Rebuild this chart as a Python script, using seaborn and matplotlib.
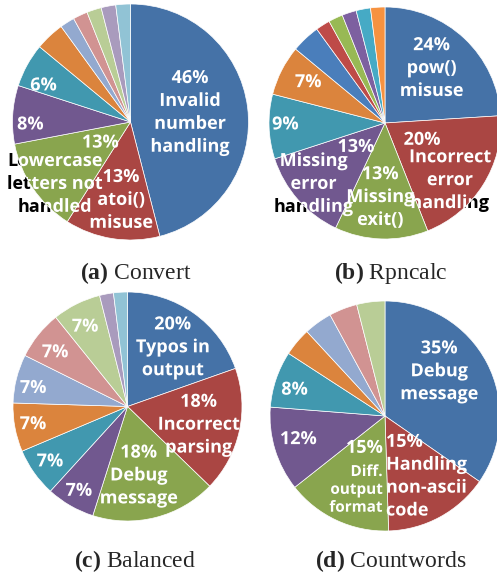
import numpy as np
import matplotlib
matplotlib.use("Agg")
import matplotlib.pyplot as plt
import matplotlib.patches as mpatches
import matplotlib.patheffects as pe
import seaborn as sns

# slice values in percent, clockwise from 12 o'clock
convert_values = [46, 13, 13, 8, 6, 4, 2, 2, 2, 2, 2]
convert_names = ["Invalid\nnumber\nhandling", "atoi()\nmisuse", "Lowercase\nletters not\nhandled"]

rpncalc_values = [24, 20, 13, 13, 9, 7, 4, 2, 2, 2, 2, 2]
rpncalc_names = ["pow()\nmisuse", "Incorrect\nerror\nhandling", "Missing\nexit()", "Missing\nerror\nhandling"]

balanced_values = [20, 18, 18, 7, 7, 7, 7, 7, 7, 2, 2]
balanced_names = ["Typos in\noutput", "Incorrect\nparsing", "Debug\nmessage"]

countwords_values = [35, 15, 15, 12, 8, 4, 4, 4, 4]
countwords_names = ["Debug\nmessage", "Handling\nnon-ascii\ncode", "Diff.\noutput\nformat"]

captions = [("(a)", "Convert"), ("(b)", "Rpncalc"), ("(c)", "Balanced"), ("(d)", "Countwords")]

# Excel-like palettes
dark = ["#4572A7", "#AA4643", "#89A54E", "#71588F", "#4198AF", "#DB843D"]
light = ["#93A9CF", "#D19392", "#B9CD96", "#A99BBD", "#91C3D5"]
bright = ["#4A7EBB", "#BE4B48", "#98B954", "#7D60A0", "#46AAC5", "#F69240"]

sns.set_style("white")
plt.rcParams["font.family"] = ["Open Sans", "DejaVu Sans"]
plt.rcParams["mathtext.fontset"] = "custom"
plt.rcParams["mathtext.rm"] = "Liberation Serif"
plt.rcParams["mathtext.bf"] = "Liberation Serif:bold"

W, H = 497, 574
fig = plt.figure(figsize=(W / 100, H / 100), dpi=100)


def pie_axes(cx, cy, r):
    return fig.add_axes([(cx - r) / W, 1 - (cy + r) / H, 2 * r / W, 2 * r / H])


def put_text(ax, s, r, ang, ma="center", size=13):
    a = np.deg2rad(ang)
    x, y = r * np.cos(a), r * np.sin(a)
    kw = dict(ha="center", va="center", multialignment=ma, fontsize=size,
              fontweight="bold", linespacing=1.35)
    # black copy sits under the pie, so it only shows where text leaves the circle
    ax.text(x, y, s, color="black", zorder=0.5, clip_on=False, **kw)
    # white copy drawn as a path so it can be clipped to the circle
    t = ax.text(x, y, s, color="white", zorder=4, clip_on=True,
                path_effects=[pe.Normal()], **kw)
    t.set_clip_path(mpatches.Circle((0, 0), 1, transform=ax.transData))


def draw_pie(ax, values, names, colors, layout):
    wedges, _ = ax.pie(values, colors=colors, startangle=90, counterclock=False,
                       radius=1, wedgeprops=dict(edgecolor="white", linewidth=0.5, zorder=2))
    ax.set_xlim(-1, 1)
    ax.set_ylim(-1, 1)
    ax.axis("off")
    for i, w in enumerate(wedges):
        if values[i] < 5:
            continue
        mid = (w.theta1 + w.theta2) / 2
        pct = f"{values[i]}%"
        name = names[i] if i < len(names) else ""
        spec = layout[i]
        opts = spec[-1] if isinstance(spec[-1], dict) else {}
        nums = [v for v in spec if not isinstance(v, dict)]
        if len(nums) == 4:
            put_text(ax, pct, nums[0], mid + nums[1])
            put_text(ax, name, nums[2], mid + nums[3], **opts)
        else:
            s = pct + ("\n" + name if name else "")
            put_text(ax, s, nums[0], mid + nums[1], **opts)


ax_a = pie_axes(130.5, 122, 118)
draw_pie(ax_a, convert_values, convert_names, dark + light,
         [(0.51, 2), (0.665, 2), (0.31, 0, 0.83, 5), (0.85, 5), (0.80, 6)])

ax_b = pie_axes(385, 123, 116)
draw_pie(ax_b, rpncalc_values, rpncalc_names, dark + bright,
         [(0.62, 3), (0.35, 8, 0.745, -9), (0.64, -2), (0.325, -2, 0.81, -1),
          (0.86, -1), (0.75, -1)])

ax_c = pie_axes(127.5, 406.5, 114.5)
draw_pie(ax_c, balanced_values, balanced_names, dark + light,
         [(0.65, -2), (0.64, -2), (0.61, -5), (0.85, 0), (0.83, 0), (0.84, 0),
          (0.84, 3), (0.79, 2), (0.79, 1.5)])

ax_d = pie_axes(385, 416, 115)
draw_pie(ax_d, countwords_values, countwords_names, dark + light,
         [(0.61, 12), (0.635, 6, dict(ma="left")),
          (0.33, -8, 0.69, 3.5, dict(ma="right", size=11)), (0.78, -2), (0.82, 2.5)])

cap_pos = [(136, 273), (391, 273), (135, 561), (391, 561)]
for (tag, title), (x, y) in zip(captions, cap_pos):
    fig.text(x / W, 1 - y / H, r"$\mathbf{" + tag + "}$ " + title,
             ha="center", va="center", fontsize=17, family="Liberation Serif")

fig.savefig("out.png", dpi=100)
